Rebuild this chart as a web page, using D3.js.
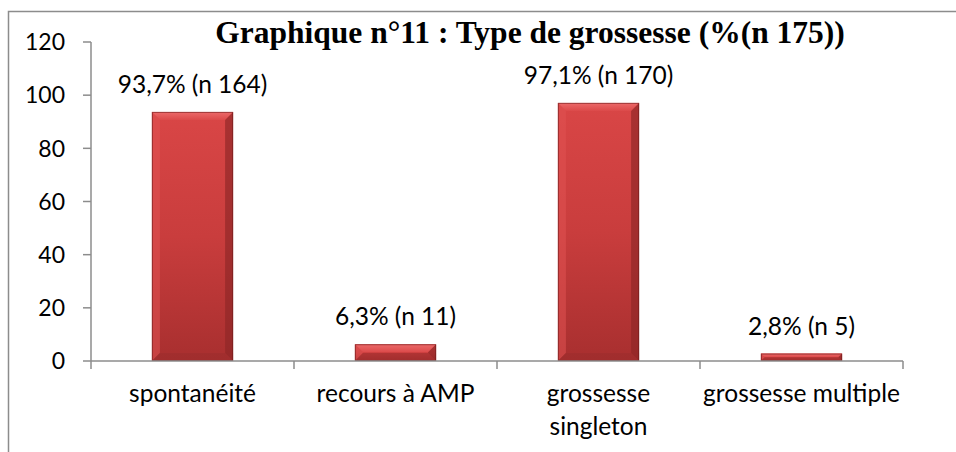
<!DOCTYPE html>
<html>
<head>
<meta charset="utf-8">
<script src="https://cdn.jsdelivr.net/npm/d3@7"></script>
<style>
  body { margin: 0; background: #fff; }
  svg { display: block; }
</style>
</head>
<body>
<svg width="956" height="452"></svg>
<script>
// chart data
var categories = ["spontanéité", "recours à AMP", "grossesse singleton", "grossesse multiple"];
var values = [93.7, 6.3, 97.1, 2.8];
var labels = ["93,7% (n 164)", "6,3% (n 11)", "97,1% (n 170)", "2,8% (n 5)"];
var catLines = [["spontanéité"], ["recours à AMP"], ["grossesse", "singleton"], ["grossesse multiple"]];
var yTicks = [0, 20, 40, 60, 80, 100, 120];
var title = "Graphique n°11 : Type de grossesse (%(n 175))";

var svg = d3.select("svg"),
    width = +svg.attr("width"),
    height = +svg.attr("height");

var font = "Lato, 'Open Sans', sans-serif";
var axisColor = "#8c8c8c";

// outer frame (runs off the right and bottom edges)
svg.append("rect")
    .attr("x", 8.5).attr("y", 11.5)
    .attr("width", 1000).attr("height", 600)
    .attr("fill", "none")
    .attr("stroke", axisColor)
    .attr("stroke-width", 1.5);

var x = d3.scaleBand()
    .domain(categories)
    .range([91, 903])
    .paddingInner(0.6)
    .paddingOuter(0.3);

var xOuter = d3.scaleBand().domain(categories).range([91, 903]);

var y = d3.scaleLinear().domain([0, 120]).range([361, 42]);

// gradients
var defs = svg.append("defs");
function grad(id, stops, vertical) {
  var g = defs.append("linearGradient").attr("id", id)
      .attr("x1", 0).attr("y1", 0)
      .attr("x2", vertical ? 0 : 1).attr("y2", vertical ? 1 : 0);
  stops.forEach(function(s) {
    g.append("stop").attr("offset", s[0]).attr("stop-color", s[1]);
  });
}
grad("face", [[0, "#d94646"], [0.5, "#c93d3d"], [1, "#a82f2f"]], true);
grad("topBevel", [[0, "#ec6a6a"], [1, "#dc4a4a"]], true);

// y axis
var yAxis = svg.append("g");
yAxis.append("line")
    .attr("x1", 91).attr("x2", 91)
    .attr("y1", y(120)).attr("y2", y(0))
    .attr("stroke", axisColor).attr("stroke-width", 1.5);
yAxis.selectAll(".tick")
    .data(yTicks)
    .enter().append("line")
      .attr("x1", 83).attr("x2", 91)
      .attr("y1", function(d) { return y(d); })
      .attr("y2", function(d) { return y(d); })
      .attr("stroke", axisColor).attr("stroke-width", 1.5);
yAxis.selectAll("text")
    .data(yTicks)
    .enter().append("text")
      .attr("x", 65)
      .attr("y", function(d) { return y(d); })
      .attr("dy", "0.36em")
      .attr("text-anchor", "end")
      .attr("font-family", font)
      .attr("font-size", 23)
      .attr("fill", "#000")
      .text(function(d) { return d; });

// bars with a bevel
var bar = svg.append("g").selectAll("g")
    .data(values)
    .enter().append("g");

bar.each(function(d, i) {
  var g = d3.select(this);
  var x0 = x(categories[i]), w = x.bandwidth();
  var y0 = y(d), h = y(0) - y(d);
  var b = Math.min(8, h / 2);
  var x1 = x0 + w, y1 = y0 + h;
  g.append("rect")
      .attr("x", x0).attr("y", y0)
      .attr("width", w).attr("height", h)
      .attr("fill", "url(#face)");
  // top bevel
  g.append("path")
      .attr("d", "M" + x0 + "," + y0 + "L" + x1 + "," + y0 + "L" + (x1 - b) + "," + (y0 + b) + "L" + (x0 + b) + "," + (y0 + b) + "Z")
      .attr("fill", "url(#topBevel)");
  // left bevel
  g.append("path")
      .attr("d", "M" + x0 + "," + y0 + "L" + (x0 + b) + "," + (y0 + b) + "L" + (x0 + b) + "," + (y1 - b) + "L" + x0 + "," + y1 + "Z")
      .attr("fill", "#e05252").attr("opacity", 0.55);
  // right bevel
  g.append("path")
      .attr("d", "M" + x1 + "," + y0 + "L" + (x1 - b) + "," + (y0 + b) + "L" + (x1 - b) + "," + (y1 - b) + "L" + x1 + "," + y1 + "Z")
      .attr("fill", "#8e2626").attr("opacity", 0.65);
  // bottom bevel
  g.append("path")
      .attr("d", "M" + x0 + "," + y1 + "L" + (x0 + b) + "," + (y1 - b) + "L" + (x1 - b) + "," + (y1 - b) + "L" + x1 + "," + y1 + "Z")
      .attr("fill", "#9a2b2b").attr("opacity", 0.5);
  // dark edge
  g.append("rect")
      .attr("x", x0 + 0.5).attr("y", y0 + 0.5)
      .attr("width", w - 1).attr("height", Math.max(0, h - 1))
      .attr("fill", "none")
      .attr("stroke", "#6e1a1a").attr("stroke-opacity", 0.6)
      .attr("stroke-width", 1);
});

// value labels
svg.append("g").selectAll("text")
    .data(values)
    .enter().append("text")
      .attr("x", function(d, i) { return x(categories[i]) + x.bandwidth() / 2; })
      .attr("y", function(d) { return y(d) - 19; })
      .attr("text-anchor", "middle")
      .attr("font-family", font)
      .attr("font-size", 24.5)
      .attr("fill", "#000")
      .text(function(d, i) { return labels[i]; });

// x axis
var xAxis = svg.append("g");
xAxis.append("line")
    .attr("x1", 91).attr("x2", 903)
    .attr("y1", y(0)).attr("y2", y(0))
    .attr("stroke", axisColor).attr("stroke-width", 1.5);
var bounds = categories.map(function(c) { return xOuter(c); }).concat([903]);
xAxis.selectAll(".tick")
    .data(bounds)
    .enter().append("line")
      .attr("x1", function(d) { return d; })
      .attr("x2", function(d) { return d; })
      .attr("y1", y(0)).attr("y2", y(0) + 8)
      .attr("stroke", axisColor).attr("stroke-width", 1.5);

var catText = xAxis.selectAll("text")
    .data(categories)
    .enter().append("text")
      .attr("text-anchor", "middle")
      .attr("font-family", font)
      .attr("font-size", 24.5)
      .attr("fill", "#000");
catText.each(function(c, i) {
  var t = d3.select(this);
  var cx = xOuter(c) + xOuter.bandwidth() / 2;
  catLines[i].forEach(function(line, j) {
    t.append("tspan")
        .attr("x", cx)
        .attr("y", 402 + j * 33)
        .text(line);
  });
});

// title
svg.append("text")
    .attr("x", 530)
    .attr("y", 43)
    .attr("text-anchor", "middle")
    .attr("font-family", "'Liberation Serif', 'Times New Roman', serif")
    .attr("font-weight", "bold")
    .attr("font-size", 31.5)
    .attr("fill", "#000")
    .text(title);
</script>
</body>
</html>
